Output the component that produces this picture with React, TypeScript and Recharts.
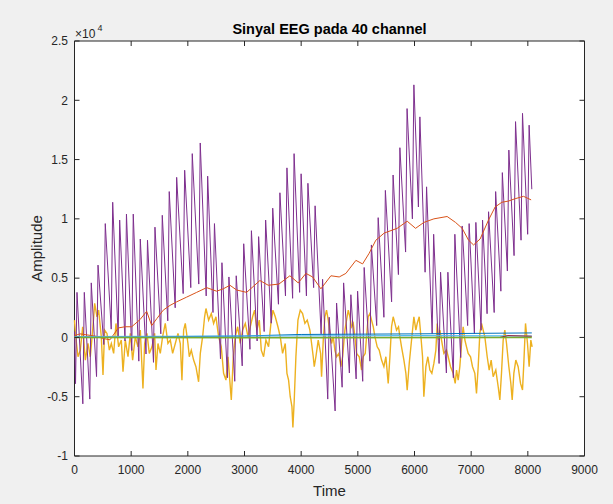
import { LineChart, Line, XAxis, YAxis, CartesianGrid, ReferenceArea } from 'recharts';

const FONT = '"Liberation Sans", Arial, Helvetica, sans-serif';
const INK = '#262626';
const PLOT = { left: 74.5, right: 584.5, top: 41, bottom: 456 };

const xTicks = [0, 1000, 2000, 3000, 4000, 5000, 6000, 7000, 8000, 9000];
const yTicks = [-10000, -5000, 0, 5000, 10000, 15000, 20000, 25000];
const yTickLabels = ['-1', '-0.5', '0', '0.5', '1', '1.5', '2', '2.5'];

// [sample, amplitude]
const purpleCh: [number, number][] = [
  [0, 500], [18, -3900], [44, 3800], [147, -5600], [173, 3800], [270, -5200], [296, 4600],
  [389, -3300], [415, 6100], [517, -600], [543, 9600], [648, 700], [674, 11400],
  [771, 0], [797, 9900], [891, -300], [917, 10400], [1011, -1100], [1037, 10400],
  [1135, -2000], [1161, 8300], [1262, -1400], [1288, 8200], [1394, -2100], [1420, 9300],
  [1523, 300], [1549, 10300], [1646, 1400], [1672, 12300], [1777, 2500], [1803, 13500],
  [1918, 3700], [1944, 14100], [2052, 4200], [2078, 15500], [2193, 4500], [2219, 16400],
  [2324, 3500], [2350, 13600], [2444, 2100], [2470, 9600], [2576, -1800], [2602, 6300],
  [2699, -3400], [2725, 5100], [2828, -3700], [2854, 5200], [2960, -2400], [2986, 7900],
  [3096, -1000], [3122, 9000], [3223, -300], [3249, 8500], [3347, 500], [3373, 9900],
  [3472, 1200], [3498, 10900], [3599, 2800], [3625, 12200], [3723, 3500], [3749, 14300],
  [3849, 3300], [3875, 15500], [3973, 3800], [3999, 13800], [4093, 3500], [4119, 13000],
  [4220, 4200], [4246, 11100], [4352, 300], [4378, 4900], [4469, -5200], [4495, 1700],
  [4599, -6200], [4625, 2900], [4723, -4200], [4749, 4600], [4851, -3000], [4877, 3600],
  [4970, -3500], [4996, 3900], [5086, -3700], [5112, 5900], [5213, -2000], [5239, 7800],
  [5333, 1000], [5359, 10100], [5460, 1700], [5486, 12400], [5596, 3000], [5622, 13700],
  [5716, 5300], [5742, 16000], [5843, 7200], [5869, 19300], [5963, 10000], [5989, 21300],
  [6069, 11000], [6095, 18600], [6187, 5500], [6213, 12700], [6312, 300], [6338, 8700],
  [6434, -2200], [6460, 5500], [6563, -3000], [6589, 5500], [6686, -3400], [6712, 8700],
  [6815, -1700], [6841, 9400], [6938, 1000], [6964, 9600], [7057, 300], [7083, 9700],
  [7175, 600], [7201, 9900], [7281, 2000], [7307, 10600], [7406, 2100], [7432, 12300],
  [7524, 3900], [7550, 13900], [7639, 5600], [7665, 15800], [7757, 6900], [7783, 18200],
  [7880, 8200], [7906, 18900], [7997, 8700], [8023, 17900], [8070, 12500],
];

const yellowCh: [number, number][] = [
  [0, 1460], [15, 340], [62, -1630], [103, -1070], [144, 900], [191, -1910], [238, -510],
  [279, -1630], [321, 620], [356, 2870], [397, 1740], [426, 2300], [473, 60], [503, -3170],
  [532, 620], [573, 340], [615, -1070], [650, -510], [691, -1350], [732, 1180], [779, -790],
  [826, -220], [856, -2890], [897, -220], [944, -1630], [985, 340], [1026, -1910], [1073, 60],
  [1120, -790], [1161, 620], [1208, -4300], [1238, -510], [1279, 340], [1320, -1350],
  [1367, -790], [1414, 340], [1438, -2750], [1473, -510], [1514, -1350], [1555, 60],
  [1602, 1180], [1649, -510], [1691, -220], [1732, -1350], [1779, -510], [1826, 340],
  [1867, -510], [1896, -3600], [1926, 620], [1955, 1180], [2002, -510], [2026, -1630],
  [2061, -1070], [2102, -1910], [2143, -2470], [2190, -3740], [2220, -1350], [2261, 60],
  [2296, 1740], [2320, 2440], [2367, 1460], [2414, 2020], [2455, 1180], [2496, 1740],
  [2543, 60], [2590, -790], [2631, -3030], [2673, -3600], [2708, -1630], [2731, -3030],
  [2767, -5280], [2802, -1630], [2837, 60], [2879, 900], [2925, -510], [2967, 620],
  [3014, 1180], [3061, 60], [3102, 900], [3143, 1740], [3178, 2300], [3219, 620],
  [3261, 1460], [3296, -1070], [3337, -1630], [3378, -220], [3425, -790], [3466, 1180],
  [3502, 2300], [3543, 1740], [3590, 900], [3631, 60], [3672, -1350], [3719, -510],
  [3749, -3030], [3778, -3600], [3807, -5000], [3837, -5840], [3854, -7600], [3878, -5280],
  [3907, -1630], [3943, 1460], [3984, 2300], [4025, 2020], [4066, 1180], [4107, 1460],
  [4154, 620], [4184, -510], [4213, -1630], [4231, -2470], [4260, -1630], [4301, -220],
  [4343, -1350], [4360, -3310], [4390, -220], [4419, 1740], [4448, 2300], [4478, 1460],
  [4507, 340], [4537, -510], [4566, 60], [4595, -1070], [4625, -1630], [4666, -1350],
  [4701, -2470], [4731, -1630], [4772, 620], [4801, 1460], [4831, 2300], [4860, 1740],
  [4889, 900], [4919, 1180], [4948, 60], [4978, -1350], [5025, -1630], [5066, -2750],
  [5095, -1630], [5130, -1350], [5154, 60], [5183, 1740], [5213, 2020], [5242, 1460],
  [5272, 900], [5301, 60], [5342, -790], [5377, -1070], [5419, -1910], [5460, -2470],
  [5495, -1630], [5536, -3880], [5566, -1630], [5595, 900], [5624, 1740], [5654, 1180],
  [5683, 620], [5718, 900], [5742, 60], [5771, -790], [5813, -1910], [5848, -3030],
  [5871, -4440], [5907, -2190], [5948, -220], [5989, 1740], [6024, 620], [6048, 1180],
  [6083, 1740], [6118, -220], [6142, -1630], [6165, -5000], [6201, -2470], [6236, -1630],
  [6271, -2750], [6306, -3030], [6342, -2190], [6377, -1070], [6401, 1180], [6424, -220],
  [6448, 620], [6477, -220], [6518, -1350], [6565, -1070], [6595, -1630], [6636, -2470],
  [6683, -3030], [6718, -3880], [6742, -2750], [6771, -3600], [6800, -2470], [6830, -510],
  [6859, 900], [6889, -220], [6918, -790], [6947, -1350], [6989, -1630], [7024, -2470],
  [7065, -3030], [7094, -4720], [7124, -2470], [7153, 340], [7183, 1180], [7212, 620],
  [7241, 60], [7283, -1630], [7318, -2750], [7353, -1910], [7388, -3310], [7435, -2750],
  [7477, -4160], [7506, -5280], [7535, -3030], [7565, -220], [7594, 620], [7624, -510],
  [7665, -2470], [7700, -3880], [7724, -5280], [7753, -3030], [7788, -1910], [7829, -2470],
  [7871, -3880], [7906, -4440], [7929, -2190], [7959, 1180], [7994, -510], [8023, -2470],
  [8053, -220], [8076, -790],
];

const orangeCh: [number, number][] = [
  [0, 150], [97, 300], [238, 200], [379, 100], [520, -100], [626, -200], [773, 800],
  [891, 900], [1009, 900], [1155, 1500], [1274, 2200], [1362, 1000], [1455, 1600],
  [1566, 2300], [1685, 2700], [1803, 3000], [1979, 3400], [2156, 3800], [2332, 4200],
  [2508, 3900], [2625, 4100], [2743, 4400], [2861, 4000], [3038, 3800], [3272, 4800],
  [3419, 4400], [3607, 4500], [3801, 5200], [3948, 4600], [4084, 5400], [4202, 5100],
  [4348, 4100], [4525, 5200], [4671, 5100], [4789, 5400], [4966, 6500], [5084, 6200],
  [5200, 7100], [5318, 8200], [5465, 8800], [5694, 9200], [5871, 9800], [6019, 9200],
  [6165, 9700], [6342, 10000], [6576, 10200], [6724, 9700], [6841, 9200], [6954, 8200],
  [7042, 7800], [7158, 8300], [7306, 9900], [7423, 11000], [7541, 11400], [7659, 11500],
  [7776, 11700], [7924, 11900], [8058, 11600],
];

const blueCh: [number, number][] = [[0, 0], [1500, 60], [3000, 120], [4000, 250], [6000, 300], [8070, 380]];
const cyanCh: [number, number][] = [[0, 80], [3000, 120], [6000, 150], [8070, 120]];
const greenCh: [number, number][] = [[0, 0], [4000, -30], [8070, 0]];
const darkRedCh: [number, number][] = [[0, 0], [7500, 0], [7650, 150], [8070, 100]];

const toRows = (pts: [number, number][]) => pts.map(([t, v]) => ({ t, v }));

const series = [
  { name: 'ch-yellow', pts: yellowCh, color: '#EDB120', width: 1.4 },
  { name: 'ch-purple', pts: purpleCh, color: '#7E2F8E', width: 1 },
  { name: 'ch-orange', pts: orangeCh, color: '#D95319', width: 1 },
  { name: 'ch-blue', pts: blueCh, color: '#0072BD', width: 1 },
  { name: 'ch-cyan', pts: cyanCh, color: '#4DBEEE', width: 1.2 },
  { name: 'ch-darkred', pts: darkRedCh, color: '#A2142F', width: 1 },
  { name: 'ch-green', pts: greenCh, color: '#77AC30', width: 1.5 },
];

const XTick = ({ x, payload }: any) => (
  <g>
    <line x1={x} x2={x} y1={PLOT.bottom} y2={PLOT.bottom - 5} stroke={INK} />
    <line x1={x} x2={x} y1={PLOT.top} y2={PLOT.top + 5} stroke={INK} />
    <text x={x} y={PLOT.bottom + 18} textAnchor="middle" fill={INK} fontSize={12} fontFamily={FONT}>
      {payload.value}
    </text>
  </g>
);

const YTick = ({ y, payload }: any) => (
  <g>
    <line x1={PLOT.left} x2={PLOT.left + 5} y1={y} y2={y} stroke={INK} />
    <line x1={PLOT.right} x2={PLOT.right - 5} y1={y} y2={y} stroke={INK} />
    <text x={PLOT.left - 6.5} y={y + 4.3} textAnchor="end" fill={INK} fontSize={12} fontFamily={FONT}>
      {yTickLabels[yTicks.indexOf(payload.value)]}
    </text>
  </g>
);

export default function App() {
  return (
    <div style={{ position: 'absolute', left: 0, top: 0, width: 613, height: 504, background: '#F0F0F0', overflow: 'hidden' }}>
      <LineChart
        width={613}
        height={504}
        margin={{ top: PLOT.top, right: 613 - PLOT.right, left: 0, bottom: 0 }}
      >
        <CartesianGrid horizontal={false} vertical={false} fill="#FFFFFF" />
        <XAxis
          type="number"
          dataKey="t"
          domain={[0, 9000]}
          ticks={xTicks}
          interval={0}
          height={504 - PLOT.bottom}
          tickSize={0}
          axisLine={false}
          tickLine={false}
          tick={XTick}
          allowDuplicatedCategory={false}
        />
        <YAxis
          type="number"
          domain={[-10000, 25000]}
          ticks={yTicks}
          interval={0}
          width={PLOT.left}
          tickSize={0}
          axisLine={false}
          tickLine={false}
          tick={YTick}
        />
        {series.map((s) => (
          <Line
            key={s.name}
            name={s.name}
            data={toRows(s.pts)}
            dataKey="v"
            type="linear"
            stroke={s.color}
            strokeWidth={s.width}
            dot={false}
            activeDot={false}
            isAnimationActive={false}
          />
        ))}
        <ReferenceArea x1={0} x2={9000} y1={-10000} y2={25000} fill="none" stroke={INK} strokeWidth={1} />
      </LineChart>
      <svg width={613} height={504} style={{ position: 'absolute', left: 0, top: 0, pointerEvents: 'none' }}>
        <text x={(PLOT.left + PLOT.right) / 2} y={34} textAnchor="middle" fontWeight="bold" fontSize={14.5} fill="#000" fontFamily={FONT}>
          Sinyal EEG pada 40 channel
        </text>
        <text x={75} y={38} fontSize={12} fill={INK} fontFamily={FONT}>×10</text>
        <text x={97.5} y={31} fontSize={9} fill={INK} fontFamily={FONT}>4</text>
        <text x={(PLOT.left + PLOT.right) / 2} y={496} textAnchor="middle" fontSize={15} fill={INK} fontFamily={FONT}>
          Time
        </text>
        <text
          x={42}
          y={(PLOT.top + PLOT.bottom) / 2}
          textAnchor="middle"
          fontSize={15}
          fill={INK}
          fontFamily={FONT}
          transform={`rotate(-90 42 ${(PLOT.top + PLOT.bottom) / 2})`}
        >
          Amplitude
        </text>
      </svg>
    </div>
  );
}
